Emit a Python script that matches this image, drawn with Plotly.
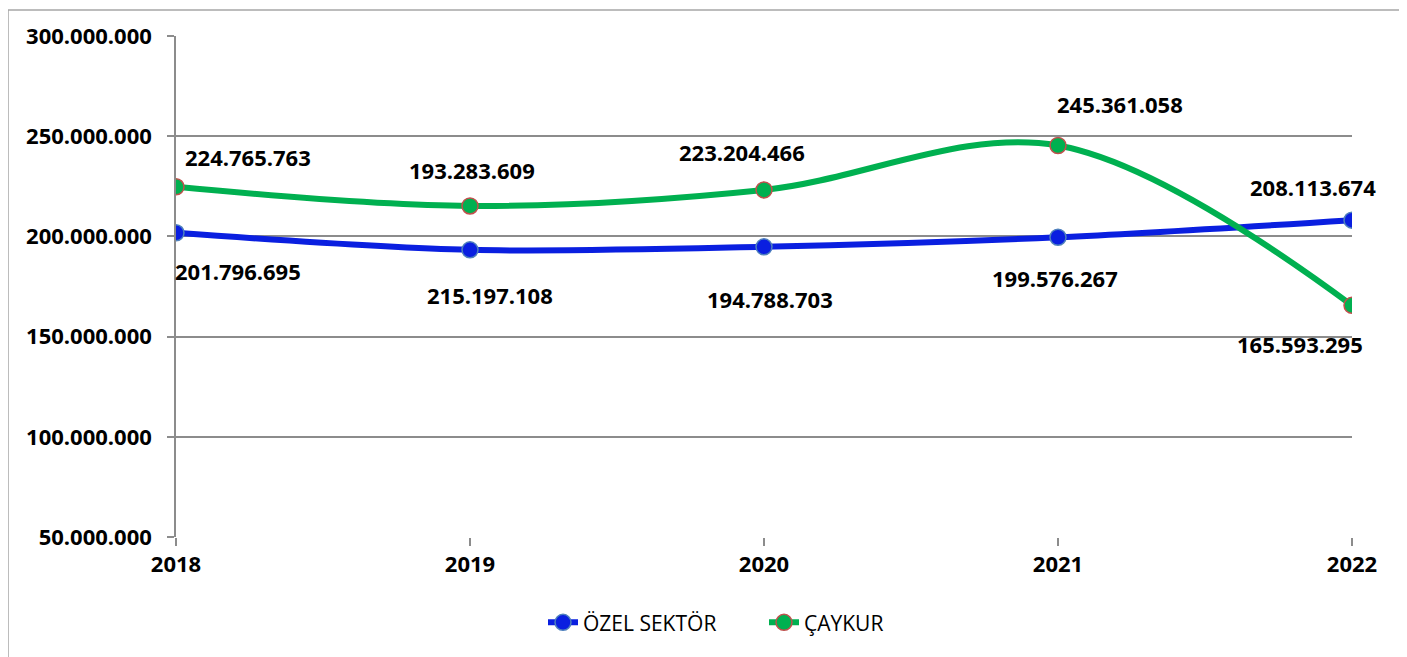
import plotly.graph_objects as go

years = [2018, 2019, 2020, 2021, 2022]
ozel = [201796695, 193283609, 194788703, 199576267, 208113674]
caykur = [224765763, 215197108, 223204466, 245361058, 165593295]
# labels as printed on the original chart
ozel_labels = ["201.796.695", "215.197.108", "194.788.703", "199.576.267", "208.113.674"]
caykur_labels = ["224.765.763", "193.283.609", "223.204.466", "245.361.058", "165.593.295"]
y_ticks = [50000000, 100000000, 150000000, 200000000, 250000000, 300000000]
y_tick_text = ["50.000.000", "100.000.000", "150.000.000", "200.000.000", "250.000.000", "300.000.000"]

# label offsets (pixels) - styling only
ozel_dx = [62, 20, 6, -3, -39]
ozel_dy = [-38, -45, -52, -41, 33]
cay_dx = [72, 2, -22, 62, -52]
cay_dy = [30, 36, 38, 42, -39]

FONT = "Open Sans"
BOLD = dict(family=FONT, size=22, color="#000000", weight="bold")

fig = go.Figure()
fig.add_trace(go.Scatter(
    x=years, y=ozel, name="ÖZEL SEKTÖR", mode="lines+markers",
    line=dict(color="#0A1FE0", width=6, shape="spline", smoothing=0.9),
    marker=dict(size=16, color="#0A1FE0", line=dict(color="#4F81BD", width=1.5)),
))
fig.add_trace(go.Scatter(
    x=years, y=caykur, name="ÇAYKUR", mode="lines+markers",
    line=dict(color="#00B050", width=6, shape="spline", smoothing=1.0),
    marker=dict(size=16, color="#00B050", line=dict(color="#C0504D", width=1.5)),
))

for i, yr in enumerate(years):
    fig.add_annotation(x=yr, y=ozel[i], text=ozel_labels[i], showarrow=False,
                       xshift=ozel_dx[i], yshift=ozel_dy[i], font=BOLD)
    fig.add_annotation(x=yr, y=caykur[i], text=caykur_labels[i], showarrow=False,
                       xshift=cay_dx[i], yshift=cay_dy[i], font=BOLD)

fig.update_layout(
    width=1395, height=649,
    margin=dict(l=168, r=51, t=26, b=120),
    paper_bgcolor="white", plot_bgcolor="white",
    showlegend=True,
    legend=dict(orientation="h", x=0.5, xref="paper", xanchor="center", y=-0.171, yanchor="middle",
                font=dict(family=FONT, size=21, color="#000000"),
                entrywidth=176, entrywidthmode="pixels",
                traceorder="normal"),
)
# border around the whole chart
fig.add_shape(type="rect", xref="paper", yref="paper",
              x0=-168/1176, x1=1+51/1176, y0=-140/503, y1=1+26/503,
              line=dict(color="#A6A6A6", width=1.5), fillcolor="rgba(0,0,0,0)", layer="below")

fig.update_xaxes(
    range=[2018, 2022], tickvals=years, ticktext=[str(y) for y in years],
    showgrid=False, showline=False, zeroline=False,
    ticks="outside", ticklen=8, tickcolor="#8C8C8C", tickwidth=1.5,
    tickfont=BOLD,
)
fig.update_yaxes(
    range=[50000000, 300000000], tickvals=y_ticks, ticktext=y_tick_text,
    showgrid=True, gridcolor="#8C8C8C", gridwidth=1.5,
    showline=True, linecolor="#8C8C8C", linewidth=1.5,
    zeroline=False, ticks="outside", ticklen=7, tickcolor="#8C8C8C", tickwidth=1.5,
    ticklabelstandoff=11,
    tickfont=BOLD,
)

fig.write_html("out.html")
